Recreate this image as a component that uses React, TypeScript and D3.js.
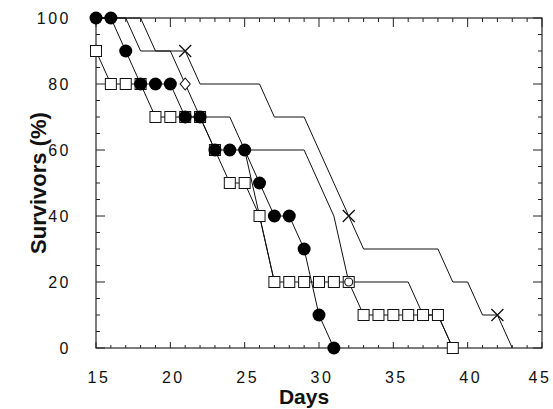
import React from 'react';
import * as d3 from 'd3';

// survival curves, % of animals alive per day
const circleDays = [15, 16, 17, 18, 19, 20, 21, 22, 23, 24, 25, 26, 27, 28, 29, 30, 31];
const circleSurv = [100, 100, 90, 80, 80, 80, 70, 70, 60, 60, 60, 50, 40, 40, 30, 10, 0];

const squareDays = [15, 16, 17, 18, 19, 20, 21, 22, 23, 24, 25, 26, 27, 28, 29, 30, 31, 32, 33, 34, 35, 36, 37, 38, 39];
const squareSurv = [90, 80, 80, 80, 70, 70, 70, 70, 60, 50, 50, 40, 20, 20, 20, 20, 20, 20, 10, 10, 10, 10, 10, 10, 0];

const crossDays = [15, 18, 19, 21, 22, 26, 27, 29, 32, 33, 38, 39, 40, 41, 42, 43];
const crossSurv = [100, 100, 90, 90, 80, 80, 70, 70, 40, 30, 30, 20, 20, 10, 10, 0];
const crossMarkDays = [21, 32, 42];
const crossMarkSurv = [90, 40, 10];

const diamondDays = [15, 17, 18, 20, 21, 22, 24, 25, 29, 31, 32, 36, 37, 38, 39];
const diamondSurv = [100, 100, 90, 90, 80, 70, 70, 60, 60, 40, 20, 20, 10, 10, 0];
const diamondMarkDays = [21];
const diamondMarkSurv = [80];
const ringMarkDays = [32];
const ringMarkSurv = [20];

const branchDays = [25, 26, 27];
const branchSurv = [60, 40, 20];

const xTickLabels = [15, 20, 25, 30, 35, 40, 45];
const yTickLabels = [0, 20, 40, 60, 80, 100];

const W = 553;
const H = 409;
const left = 96, right = 542, top = 18, bottom = 348;
const font = '"Liberation Sans", Arial, Helvetica, sans-serif';

const App = () => {
  const x = d3.scaleLinear().domain([15, 45]).range([left, right]);
  const y = d3.scaleLinear().domain([0, 100]).range([bottom, top]);

  const line = d3.line<[number, number]>()
    .x(d => x(d[0]))
    .y(d => y(d[1]));

  const zip = (a: number[], b: number[]) => a.map((v, i) => [v, b[i]] as [number, number]);

  const curves = [
    zip(circleDays, circleSurv),
    zip(squareDays, squareSurv),
    zip(crossDays, crossSurv),
    zip(diamondDays, diamondSurv),
    zip(branchDays, branchSurv),
  ];

  const days = d3.range(15, 46);
  const pcts = d3.range(0, 101, 5);

  return (
    <svg width={W} height={H} style={{ position: 'absolute', left: 0, top: 0, background: '#fff' }}>
      {/* frame */}
      <rect x={left} y={top} width={right - left} height={bottom - top} fill="none" stroke="#111" strokeWidth={1.1} />

      {/* ticks, all pointing inward */}
      {days.map(d => {
        const major = d % 5 === 0;
        return (
          <g key={'xt' + d} stroke="#222" strokeWidth={1}>
            <line x1={x(d)} x2={x(d)} y1={top} y2={top + (major ? 9 : 4)} />
            <line x1={x(d)} x2={x(d)} y1={bottom} y2={bottom - (major ? 6 : 3)} />
          </g>
        );
      })}
      {pcts.map(p => {
        const major = p % 20 === 0;
        return (
          <g key={'yt' + p} stroke="#222" strokeWidth={1}>
            <line x1={left} x2={left + (major ? 9 : 4)} y1={y(p)} y2={y(p)} />
            <line x1={right} x2={right - (major ? 9 : 4)} y1={y(p)} y2={y(p)} />
          </g>
        );
      })}

      {/* tick labels */}
      {xTickLabels.map(d => (
        <text key={'xl' + d} x={Math.min(x(d) + 3, 540)} y={383} textAnchor="middle" fontFamily={font} fontSize={16}
          letterSpacing={2.5} fill="#111">{d}</text>
      ))}
      {yTickLabels.map(p => (
        <text key={'yl' + p} x={71} y={y(p) + 6} textAnchor="end" fontFamily={font} fontSize={16}
          letterSpacing={2.5} fill="#111">{p}</text>
      ))}

      {/* axis titles */}
      <text x={304} y={404} textAnchor="middle" fontFamily={font} fontSize={21} fontWeight="bold" fill="#111">Days</text>
      <text transform={`translate(46,183) rotate(-90)`} textAnchor="middle" fontFamily={font} fontSize={22}
        fontWeight="bold" fill="#111">Survivors (%)</text>

      {/* curves */}
      {curves.map((c, i) => (
        <path key={'c' + i} d={line(c) || ''} fill="none" stroke="#111" strokeWidth={1} />
      ))}

      {/* markers */}
      {squareDays.map((d, i) => (
        <rect key={'sq' + i} x={x(d) - 5.5} y={y(squareSurv[i]) - 5.5} width={11} height={11}
          fill="#fff" stroke="#111" strokeWidth={1} />
      ))}
      {circleDays.map((d, i) => (
        <circle key={'ci' + i} cx={x(d)} cy={y(circleSurv[i])} r={6.5} fill="#000" />
      ))}
      {crossMarkDays.map((d, i) => (
        <path key={'x' + i} transform={`translate(${x(d)},${y(crossMarkSurv[i])})`}
          d="M-6,-6L6,6M-6,6L6,-6" stroke="#111" strokeWidth={1.3} fill="none" />
      ))}
      {diamondMarkDays.map((d, i) => (
        <path key={'dm' + i} transform={`translate(${x(d)},${y(diamondMarkSurv[i])})`}
          d="M0,-6L5,0L0,6L-5,0Z" stroke="#111" strokeWidth={1.1} fill="#fff" />
      ))}
      {ringMarkDays.map((d, i) => (
        <circle key={'rm' + i} cx={x(d)} cy={y(ringMarkSurv[i])} r={4} stroke="#111" strokeWidth={1.1} fill="#fff" />
      ))}
    </svg>
  );
};

export default App;
